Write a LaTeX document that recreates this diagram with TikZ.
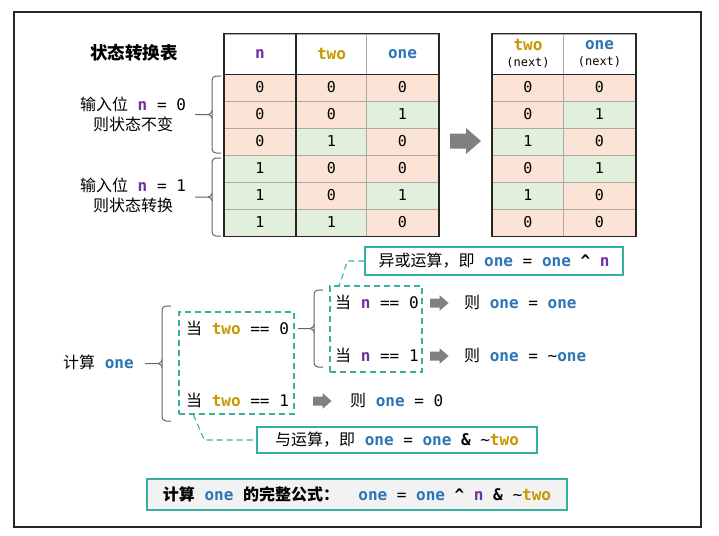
\documentclass[tikz,border=0pt]{standalone}
\usepackage{fontspec}
\setmainfont{DejaVu Sans Mono}
\newfontfamily\cjk{Noto Sans CJK SC}
\usetikzlibrary{positioning}

\definecolor{nclr}{RGB}{112,48,160}
\definecolor{twoclr}{RGB}{197,152,0}
\definecolor{oneclr}{RGB}{46,117,182}
\definecolor{zerofill}{RGB}{251,228,214}
\definecolor{onefill}{RGB}{226,239,218}
\definecolor{gridgray}{RGB}{170,170,170}
\definecolor{tealclr}{RGB}{56,176,160}
\definecolor{arrowgray}{RGB}{128,128,128}
\definecolor{bracegray}{RGB}{100,100,100}
\definecolor{formulafill}{RGB}{242,242,242}

\newcommand{\zh}[1]{{\cjk #1}}
\newcommand{\vn}{\textcolor{nclr}{\bfseries n}}
\newcommand{\vtwo}{\textcolor{twoclr}{\bfseries two}}
\newcommand{\vone}{\textcolor{oneclr}{\bfseries one}}
\newcommand{\sidebrace}[4]{%
  \pgfmathsetmacro\bmid{(#2+#3)/2}
  \draw[bracestroke, rounded corners=4pt] (#1+9,#2) -- (#1,#2) -- (#1,#3) -- (#1+9,#3);
  \draw[bracestroke] (#4,\bmid) -- (#1-4,\bmid) to[out=0,in=-90] (#1,\bmid-4);
  \draw[bracestroke] (#1-4,\bmid) to[out=0,in=90] (#1,\bmid+4);
}

\begin{document}
\begin{tikzpicture}[x=1pt, y=-1pt,
  cell/.style={draw=gridgray, line width=0.8pt, minimum width=71.5pt, minimum height=27pt, inner sep=0pt, font=\fontsize{15}{15}\selectfont},
  head/.style={cell, fill=white, minimum height=40pt, font=\fontsize{16}{16}\selectfont},
  c0/.style={fill=zerofill},
  c1/.style={fill=onefill},
  tableline/.style={line width=1.8pt, black!85},
  lbl/.style={anchor=west, inner sep=0pt, text height=11.5pt, text depth=0pt, font=\fontsize{16}{20}\selectfont},
  dashbox/.style={draw=tealclr, line width=1.3pt, dash pattern=on 6pt off 4pt, inner sep=0pt},
  notebox/.style={draw=tealclr, line width=1.3pt, inner sep=0pt, font=\fontsize{16}{20}\selectfont},
  tealdash/.style={tealclr, line width=1.1pt, dash pattern=on 6pt off 4pt},
  bracestroke/.style={bracegray, line width=1pt},
  pics/fatarrow/.style={code={\fill[arrowgray] (0,-7.5) -- (16,-7.5) -- (16,-13) -- (31,0) -- (16,13) -- (16,7.5) -- (0,7.5) -- cycle;}}]
\useasboundingbox (0,0) rectangle (719,535);

% state table
\node[font=\fontsize{17.5}{20}\selectfont] (title) at (134,53) {\zh{\bfseries 状态转换表}};
\node[head] (hn) at (260,54) {\vn};
\node[head] (htwo) at (331.5,54) {\vtwo};
\node[head] (hone) at (402.5,54) {\vone};
\node[head, align=center] (htwon) at (528,54) {\vtwo\\[0pt]{\fontsize{12}{12}\selectfont (next)}};
\node[head, align=center] (honen) at (599.5,54) {\vone\\[0pt]{\fontsize{12}{12}\selectfont (next)}};
\foreach \a/\b/\c/\d/\e [count=\i] in {0/0/0/0/0, 0/0/1/0/1, 0/1/0/1/0, 1/0/0/0/1, 1/0/1/1/0, 1/1/0/0/0} {
  \pgfmathsetmacro\ry{60.5+27*\i}
  \node[cell, c\a] (n\i) at (260,\ry) {\a};
  \node[cell, c\b] (t\i) at (331.5,\ry) {\b};
  \node[cell, c\c] (o\i) at (402.5,\ry) {\c};
  \node[cell, c\d] (tn\i) at (528,\ry) {\d};
  \node[cell, c\e] (on\i) at (599.5,\ry) {\e};
}
\draw[tableline] (hn.north west) rectangle (o6.south east);
\draw[tableline] (hn.south west) -- (hone.south east);
\draw[tableline] (hn.north east) -- (n6.south east);
\draw[tableline] (htwon.north west) rectangle (on6.south east);
\draw[tableline] (htwon.south west) -- (honen.south east);
\pic at (450,141) {fatarrow};

\node[align=center, font=\fontsize{16}{20}\selectfont] (keep) at (133,114) {\zh{输入位} \vn{} = 0\\\zh{则状态不变}};
\node[align=center, font=\fontsize{16}{20}\selectfont] (flip) at (133,195) {\zh{输入位} \vn{} = 1\\\zh{则状态转换}};
\sidebrace{212}{76}{153}{195}
\sidebrace{212}{158}{236}{195}

% computing one
\node[lbl] (calc) at (63,363) {\zh{计算} \vone};
\sidebrace{162}{306}{421}{145}
\node[dashbox, minimum width=115pt, minimum height=102pt] (box1) at (236.5,363) {};
\node[lbl] (w0) at (186,329) {\zh{当} \vtwo{} == 0};
\node[lbl] (w1) at (186,401) {\zh{当} \vtwo{} == 1};
\sidebrace{314}{290}{367}{298}
\node[dashbox, minimum width=92pt, minimum height=86pt] (box2) at (376,329) {};
\node[lbl] (n0) at (335,303) {\zh{当} \vn{} == 0};
\node[lbl] (n1) at (335,356) {\zh{当} \vn{} == 1};
\pic[scale=0.6] at (430,303) {fatarrow};
\pic[scale=0.6] at (430,356) {fatarrow};
\pic[scale=0.6] at (313,401) {fatarrow};
\node[lbl] (r0) at (464,303) {\zh{则} \vone{} = \vone};
\node[lbl] (r1) at (464,356) {\zh{则} \vone{} = \textasciitilde\vone};
\node[lbl] (r2) at (350,401) {\zh{则} \vone{} = 0};

\node[notebox, minimum width=258pt, minimum height=28pt] (xor) at (494,261) {\zh{异或运算，即} \vone{} = \vone{} \textbf{\textasciicircum} \vn};
\node[notebox, minimum width=280pt, minimum height=26pt] (and) at (397,440) {\zh{与运算，即} \vone{} = \vone{} \textbf{\&} \textasciitilde\vtwo};
\coordinate (b2top) at ([xshift=10pt]box2.north west);
\coordinate (b1foot) at ([xshift=15pt]box1.south west);
\coordinate (b1bend) at ([xshift=26pt]box1.south west);
\draw[tealdash] (xor.west) -- ++(-17,0) -- (b2top);
\draw[tealdash] (b1foot) -- (b1bend |- and.west) -- (and.west);

\node[notebox, fill=formulafill, minimum width=420pt, minimum height=31pt] (formula) at (357,494.5) {\zh{\bfseries 计算} \vone{} \zh{\bfseries 的完整公式：}\ \ \vone{} = \vone{} \textbf{\textasciicircum} \vn{} \textbf{\&} \textasciitilde\vtwo};

\draw[line width=1.5pt, black!85] (14,12) rectangle (701,527);
\end{tikzpicture}
\end{document}
